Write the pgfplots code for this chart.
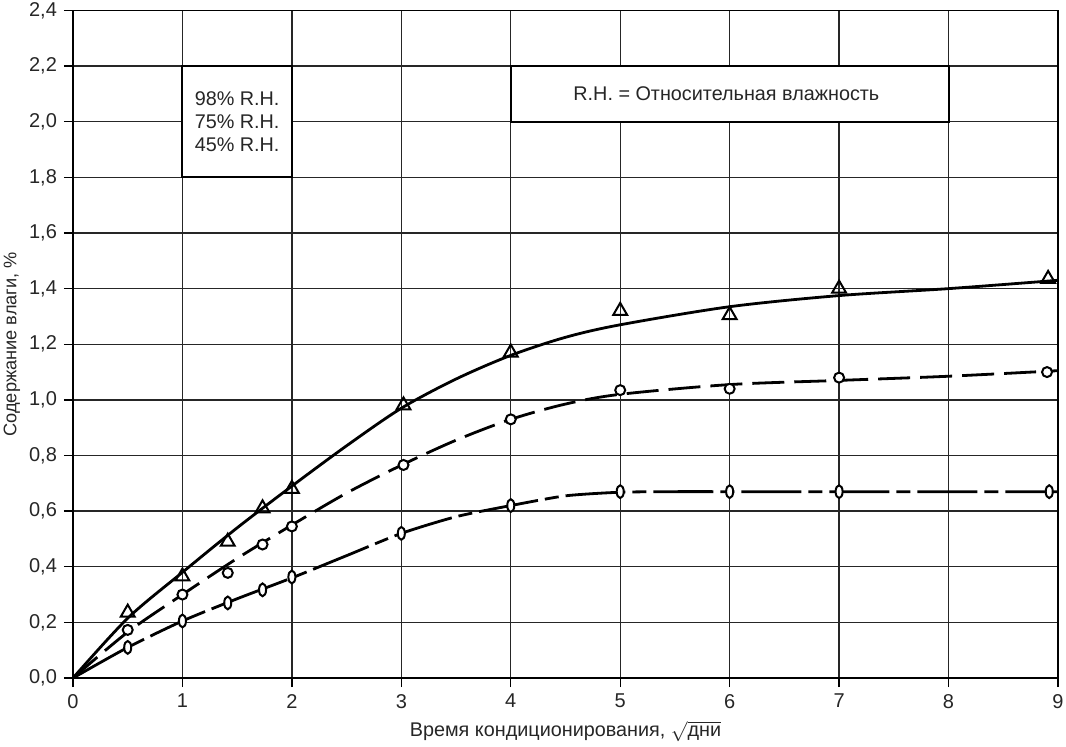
\documentclass[border=0pt]{standalone}
\usepackage{fontspec}
\setmainfont{Liberation Sans}
\usepackage{pgfplots}
\pgfplotsset{compat=1.18}
\pgfdeclareplotmark{vellipse}{%
  \pgfpathellipse{\pgfpointorigin}{\pgfqpoint{0.55\pgfplotmarksize}{0pt}}{\pgfqpoint{0pt}{\pgfplotmarksize}}%
  \pgfusepathqfillstroke}
\begin{document}
\begin{tikzpicture}
\useasboundingbox (-36.5pt,-34pt) rectangle (496.5pt,339pt);
\begin{axis}[
  at={(0,0)}, anchor=south west,
  scale only axis, width=492.5pt, height=333.75pt,
  xmin=0, xmax=9, ymin=0, ymax=2.4,
  xtick={0,1,2,3,4,5,6,7,8,9},
  ytick={0,0.2,0.4,0.6,0.8,1.0,1.2,1.4,1.6,1.8,2.0,2.2,2.4},
  grid=major, major grid style={black!85, line width=0.65pt},
  axis line style={black, line width=0.75pt},
  tick align=outside, tick pos=left, major tick length=4.5pt,
  tick style={black, line width=0.65pt},
  ticklabel style={font=\fontsize{10}{12}\selectfont, text=black!85},
  /pgf/number format/assume math mode=true,
  xticklabel style={/pgf/number format/.cd, fixed, precision=0},
  yticklabel style={/pgf/number format/.cd, fixed, fixed zerofill, precision=1, use comma},
  xlabel={Время кондиционирования, $\sqrt{\mbox{дни}}$},
  ylabel={Содержание влаги, \%},
  every axis x label/.style={at={(axis description cs:0.5,-0.087)}, anchor=base, font=\fontsize{9.9}{12}\selectfont, text=black!85},
  every axis y label/.style={at={(axis description cs:-0.062,0.5)}, anchor=center, rotate=90, font=\fontsize{9.1}{11}\selectfont, text=black!85},
  clip=true,
]
% 98% R.H. curve
\addplot[black, line width=1.4pt, smooth, tension=0.5] coordinates {
 (0,0) (0.5,0.215) (1,0.38) (1.5,0.54) (2,0.69) (2.5,0.835) (3,0.97) (3.5,1.075) (4,1.16) (4.5,1.225) (5,1.27) (6,1.335) (7,1.375) (8,1.40) (9,1.43)};
% 75% R.H. curve
\addplot[black, line width=1.4pt, smooth, tension=0.5, dash pattern=on 16pt off 5pt] coordinates {
 (0,0) (0.5,0.165) (1,0.30) (1.5,0.43) (2,0.55) (2.5,0.665) (3,0.765) (3.5,0.855) (4,0.93) (4.5,0.985) (5,1.02) (6,1.055) (7,1.07) (8,1.085) (9,1.105)};
% 45% R.H. curve
\addplot[black, line width=1.4pt, smooth, tension=0.4, dash pattern=on 30pt off 3.5pt on 7pt off 3.5pt] coordinates {
 (0,0) (0.5,0.11) (1,0.205) (1.5,0.285) (2,0.36) (2.5,0.44) (3,0.52) (3.5,0.58) (4,0.62) (4.5,0.655) (5,0.668) (5.5,0.67) (6,0.67) (7,0.67) (8,0.67) (9,0.67)};
% markers
\addplot[only marks, mark=triangle, mark size=4pt, mark options={fill=white, line width=1pt, solid}] coordinates {
 (0.5,0.235) (1,0.365) (1.414,0.49) (1.732,0.61) (2,0.68) (3.02,0.98) (4,1.17) (5,1.32) (6,1.305) (7,1.40) (8.91,1.435)};
\addplot[only marks, mark=*, mark size=2.5pt, mark options={fill=white, draw=black, line width=1pt, solid}] coordinates {
 (0.5,0.173) (1,0.30) (1.414,0.378) (1.732,0.48) (2,0.545) (3.02,0.766) (4,0.93) (5,1.035) (6,1.04) (7,1.08) (8.9,1.10)};
\addplot[only marks, mark=vellipse, mark size=3.2pt, mark options={fill=white, draw=black, line width=1pt, solid}] coordinates {
 (0.5,0.11) (1,0.205) (1.414,0.27) (1.732,0.317) (2,0.363) (3,0.52) (4,0.62) (5,0.67) (6,0.67) (7,0.67) (8.92,0.67)};
% boxes
\draw[black, line width=1pt, fill=white] (axis cs:1,1.8) rectangle (axis cs:2,2.2);
\node[align=center, font=\fontsize{9.9}{11.5}\selectfont, text=black!85] at (axis cs:1.5,2.0) {98\% R.H.\\75\% R.H.\\45\% R.H.};
\draw[black, line width=1pt, fill=white] (axis cs:4,2.0) rectangle (axis cs:8,2.2);
\node[font=\fontsize{9.9}{12}\selectfont, text=black!85] at (axis cs:5.97,2.1) {R.H. = Относительная влажность};
\end{axis}
\end{tikzpicture}
\end{document}
